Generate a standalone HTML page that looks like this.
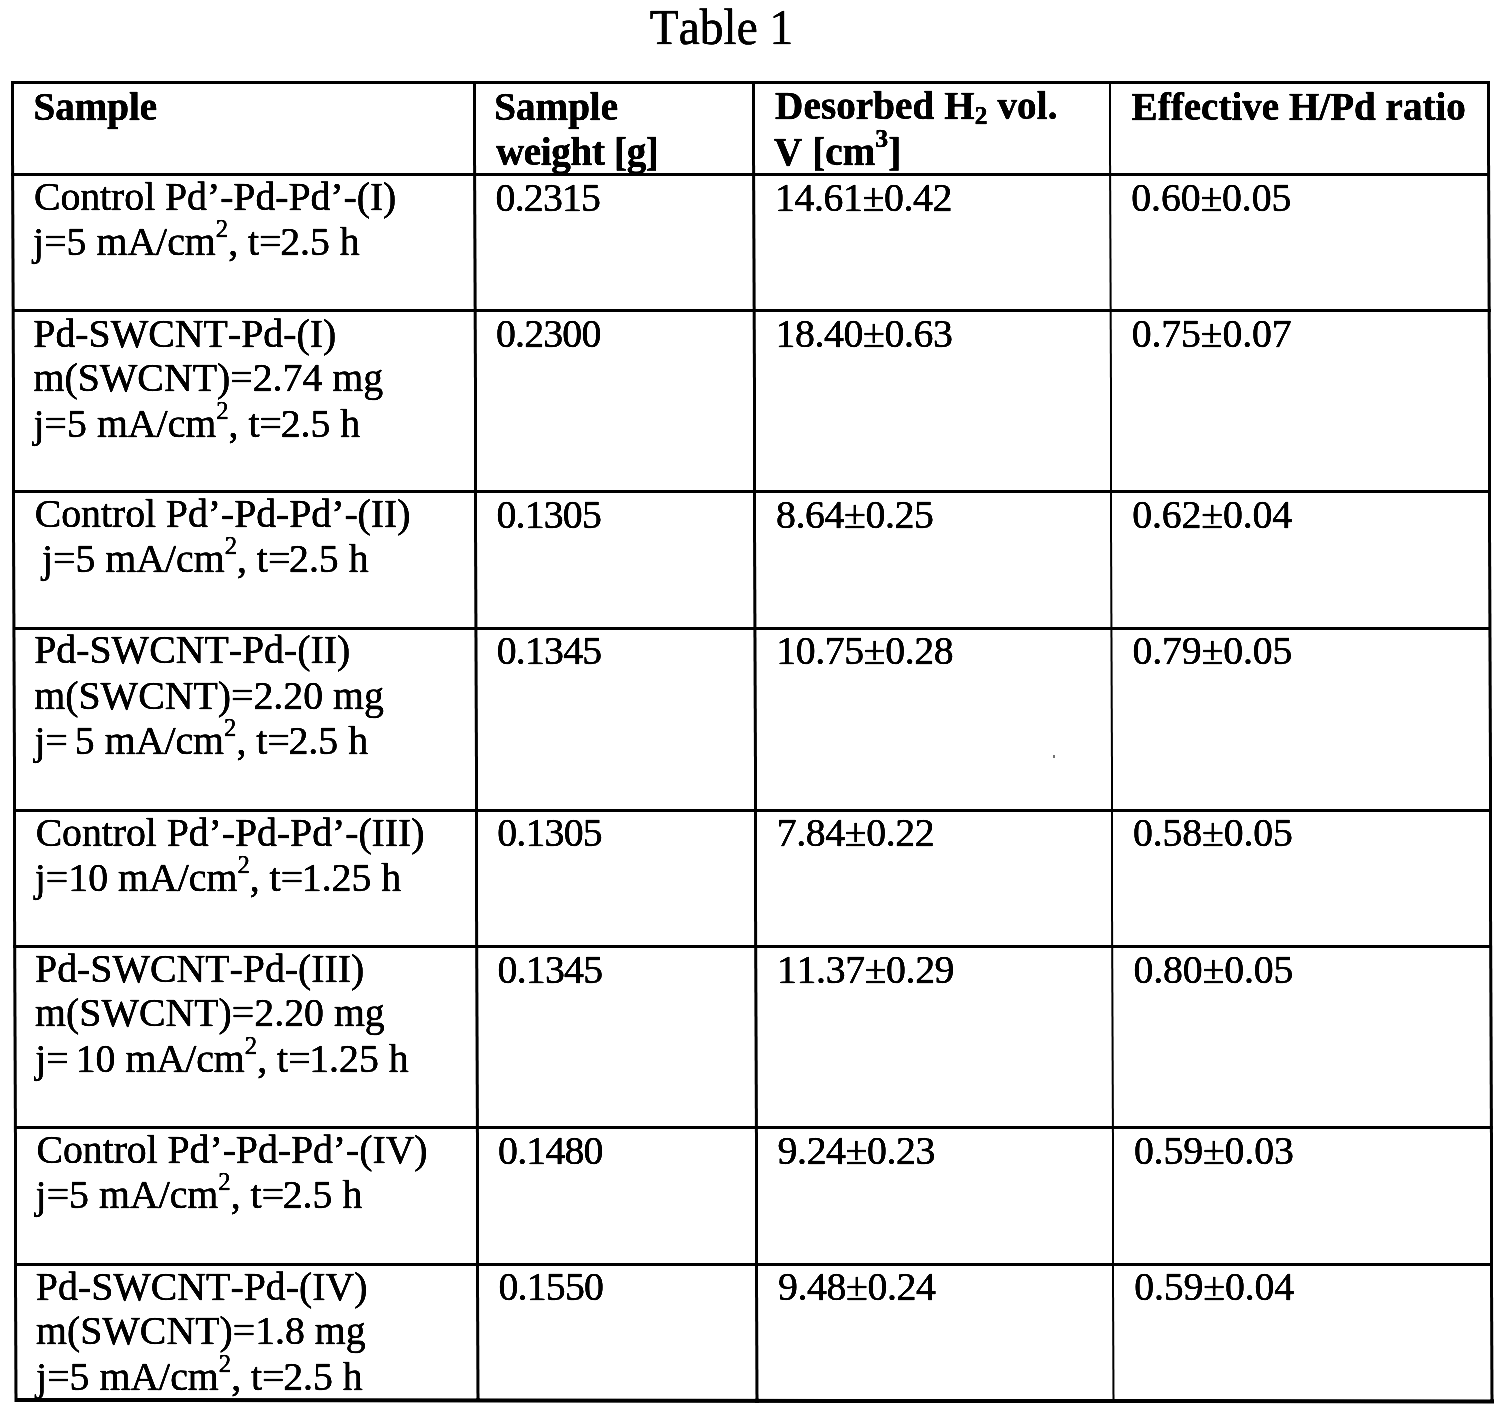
<!DOCTYPE html>
<html><head><meta charset="utf-8"><title>Table 1</title>
<style>
html,body{margin:0;padding:0;background:#fff;}
html{filter:grayscale(1) contrast(1.6);}
body{width:1507px;height:1417px;overflow:hidden;position:relative;font-family:"Liberation Serif",serif;color:#000;font-kerning:none;font-variant-ligatures:none;}
.v,.h{position:absolute;background:#000;transform-origin:0 0;}
.t{position:absolute;white-space:pre;-webkit-text-stroke:0.55px #000;font-size:39.8px;line-height:46.0px;height:46.0px;}
.b{font-weight:bold;font-size:39.1px;}
sup,sub{line-height:0;}
sup{font-size:0.62em;vertical-align:17.8px;}
.b sup{font-size:0.66em;vertical-align:18.0px;}
sub{font-size:0.65em;vertical-align:-5px;}
s{text-decoration:none;margin-right:-1.4px;}
b.sp{display:inline-block;width:8px;}
u{text-decoration:none;letter-spacing:-3px;}
#ttl{position:absolute;-webkit-text-stroke:0.55px #000;white-space:nowrap;font-size:47.4px;line-height:54px;transform:scale(1,1.05);}
.dot{position:absolute;background:#777;}
</style></head><body>

<div id="ttl" style="left:649.8px;top:1.30px;transform-origin:0 43.00px">Table 1</div>
<div class="v" style="left:11.11px;top:81.00px;width:2.8px;height:1320.7px;transform:skewX(0.1518deg)"></div>
<div class="v" style="left:473.11px;top:81.00px;width:2.8px;height:1321.2px;transform:skewX(0.1518deg)"></div>
<div class="v" style="left:752.11px;top:81.00px;width:2.8px;height:1321.5px;transform:skewX(0.1518deg)"></div>
<div class="v" style="left:1109.01px;top:81.00px;width:2.3px;height:1321.8px;transform:skewX(0.1518deg)"></div>
<div class="v" style="left:1487.11px;top:81.00px;width:2.8px;height:1322.2px;transform:skewX(0.1518deg)"></div>
<div class="h" style="left:11.11px;top:81.00px;width:1478.8px;height:3.2px;transform:skewY(0.0000deg)"></div>
<div class="h" style="left:11.36px;top:173.00px;width:1478.8px;height:3.3px;transform:skewY(0.0000deg)"></div>
<div class="h" style="left:11.72px;top:309.10px;width:1478.8px;height:3.1px;transform:skewY(0.0000deg)"></div>
<div class="h" style="left:12.20px;top:490.10px;width:1478.8px;height:3.2px;transform:skewY(0.0000deg)"></div>
<div class="h" style="left:12.56px;top:626.60px;width:1478.8px;height:3.0px;transform:skewY(0.0000deg)"></div>
<div class="h" style="left:13.04px;top:808.70px;width:1478.8px;height:3.2px;transform:skewY(0.0000deg)"></div>
<div class="h" style="left:13.40px;top:945.10px;width:1478.8px;height:3.2px;transform:skewY(0.0000deg)"></div>
<div class="h" style="left:13.88px;top:1126.00px;width:1478.8px;height:3.2px;transform:skewY(0.0000deg)"></div>
<div class="h" style="left:14.25px;top:1263.00px;width:1478.8px;height:2.9px;transform:skewY(0.0000deg)"></div>
<div class="h" style="left:14.60px;top:1398.00px;width:1478.8px;height:4.0px;transform:skewY(0.0573deg)"></div>
<div class="t b" style="left:33.42px;top:83.60px">Sample</div>
<div class="t b" style="left:494.32px;top:83.60px">Sample</div>
<div class="t b" style="left:495.94px;top:129.40px;letter-spacing:-0.35px">weight [g]</div>
<div class="t b" style="left:775.12px;top:83.10px;letter-spacing:0.1px">Desorbed H<sub>2</sub> vol.</div>
<div class="t b" style="left:773.94px;top:129.40px;letter-spacing:0.1px">V [cm<sup>3</sup>]</div>
<div class="t b" style="left:1131.62px;top:83.60px">Effective H/Pd ratio</div>
<div class="t" style="left:33.96px;top:174.37px;letter-spacing:-0.06px">Control Pd’-Pd-Pd’-(I)</div>
<div class="t" style="left:33.08px;top:219.47px">j=5 mA/cm<sup>2</sup>, t<s>=</s>2.5 h</div>
<div class="t" style="left:495.56px;top:174.87px;letter-spacing:-0.8px">0.2315</div>
<div class="t" style="left:775.06px;top:174.87px;letter-spacing:-0.4px">14.61±0.42</div>
<div class="t" style="left:1131.36px;top:174.87px;letter-spacing:-0.15px">0.60±0.05</div>
<div class="t" style="left:33.32px;top:310.87px">Pd-SWCNT-Pd-(I)</div>
<div class="t" style="left:33.44px;top:355.37px">m(SWCNT)=2.74 mg</div>
<div class="t" style="left:33.56px;top:400.97px">j=5 mA/cm<sup>2</sup>, t<s>=</s>2.5 h</div>
<div class="t" style="left:495.92px;top:311.37px;letter-spacing:-0.8px">0.2300</div>
<div class="t" style="left:775.42px;top:311.37px;letter-spacing:-0.4px">18.40±0.63</div>
<div class="t" style="left:1131.72px;top:311.37px;letter-spacing:-0.15px">0.75±0.07</div>
<div class="t" style="left:34.80px;top:491.37px;letter-spacing:-0.06px">Control Pd’-Pd-Pd’-(II)</div>
<div class="t" style="left:33.92px;top:536.47px"><b class="sp"></b>j=5 mA/cm<sup>2</sup>, t<s>=</s>2.5 h</div>
<div class="t" style="left:496.40px;top:491.87px;letter-spacing:-0.8px">0.1305</div>
<div class="t" style="left:775.90px;top:491.87px;letter-spacing:-0.4px">8.64±0.25</div>
<div class="t" style="left:1132.20px;top:491.87px;letter-spacing:-0.15px">0.62±0.04</div>
<div class="t" style="left:34.16px;top:627.37px">Pd-SWCNT-Pd-(II)</div>
<div class="t" style="left:34.28px;top:672.77px">m(SWCNT)=2.20 mg</div>
<div class="t" style="left:34.40px;top:717.57px">j=<u> </u>5 mA/cm<sup>2</sup>, t<s>=</s>2.5 h</div>
<div class="t" style="left:496.76px;top:627.87px;letter-spacing:-0.8px">0.1345</div>
<div class="t" style="left:776.26px;top:627.87px;letter-spacing:-0.4px">10.75±0.28</div>
<div class="t" style="left:1132.56px;top:627.87px;letter-spacing:-0.15px">0.79±0.05</div>
<div class="t" style="left:35.64px;top:809.97px;letter-spacing:-0.06px">Control Pd’-Pd-Pd’-(III)</div>
<div class="t" style="left:34.76px;top:854.87px">j=10 mA/cm<sup>2</sup>, t<s>=</s>1.25 h</div>
<div class="t" style="left:497.24px;top:810.47px;letter-spacing:-0.8px">0.1305</div>
<div class="t" style="left:776.74px;top:810.47px;letter-spacing:-0.4px">7.84±0.22</div>
<div class="t" style="left:1133.04px;top:810.47px;letter-spacing:-0.15px">0.58±0.05</div>
<div class="t" style="left:35.00px;top:946.07px">Pd-SWCNT-Pd-(III)</div>
<div class="t" style="left:35.12px;top:990.47px">m(SWCNT)=2.20 mg</div>
<div class="t" style="left:35.24px;top:1035.57px">j=<u> </u>10 mA/cm<sup>2</sup>, t<s>=</s>1.25 h</div>
<div class="t" style="left:497.60px;top:946.57px;letter-spacing:-0.8px">0.1345</div>
<div class="t" style="left:777.10px;top:946.57px;letter-spacing:-0.4px">11.37±0.29</div>
<div class="t" style="left:1133.40px;top:946.57px;letter-spacing:-0.15px">0.80±0.05</div>
<div class="t" style="left:36.48px;top:1127.27px;letter-spacing:-0.06px">Control Pd’-Pd-Pd’-(IV)</div>
<div class="t" style="left:35.60px;top:1172.07px">j=5 mA/cm<sup>2</sup>, t<s>=</s>2.5 h</div>
<div class="t" style="left:498.09px;top:1127.77px;letter-spacing:-0.8px">0.1480</div>
<div class="t" style="left:777.59px;top:1127.77px;letter-spacing:-0.4px">9.24±0.23</div>
<div class="t" style="left:1133.89px;top:1127.77px;letter-spacing:-0.15px">0.59±0.03</div>
<div class="t" style="left:35.85px;top:1263.77px">Pd-SWCNT-Pd-(IV)</div>
<div class="t" style="left:35.96px;top:1308.47px">m(SWCNT)=1.8 mg</div>
<div class="t" style="left:36.08px;top:1353.97px">j=5 mA/cm<sup>2</sup>, t<s>=</s>2.5 h</div>
<div class="t" style="left:498.45px;top:1264.27px;letter-spacing:-0.8px">0.1550</div>
<div class="t" style="left:777.95px;top:1264.27px;letter-spacing:-0.4px">9.48±0.24</div>
<div class="t" style="left:1134.25px;top:1264.27px;letter-spacing:-0.15px">0.59±0.04</div>
<div class="dot" style="left:1053px;top:755px;width:2px;height:3px"></div>
</body></html>
